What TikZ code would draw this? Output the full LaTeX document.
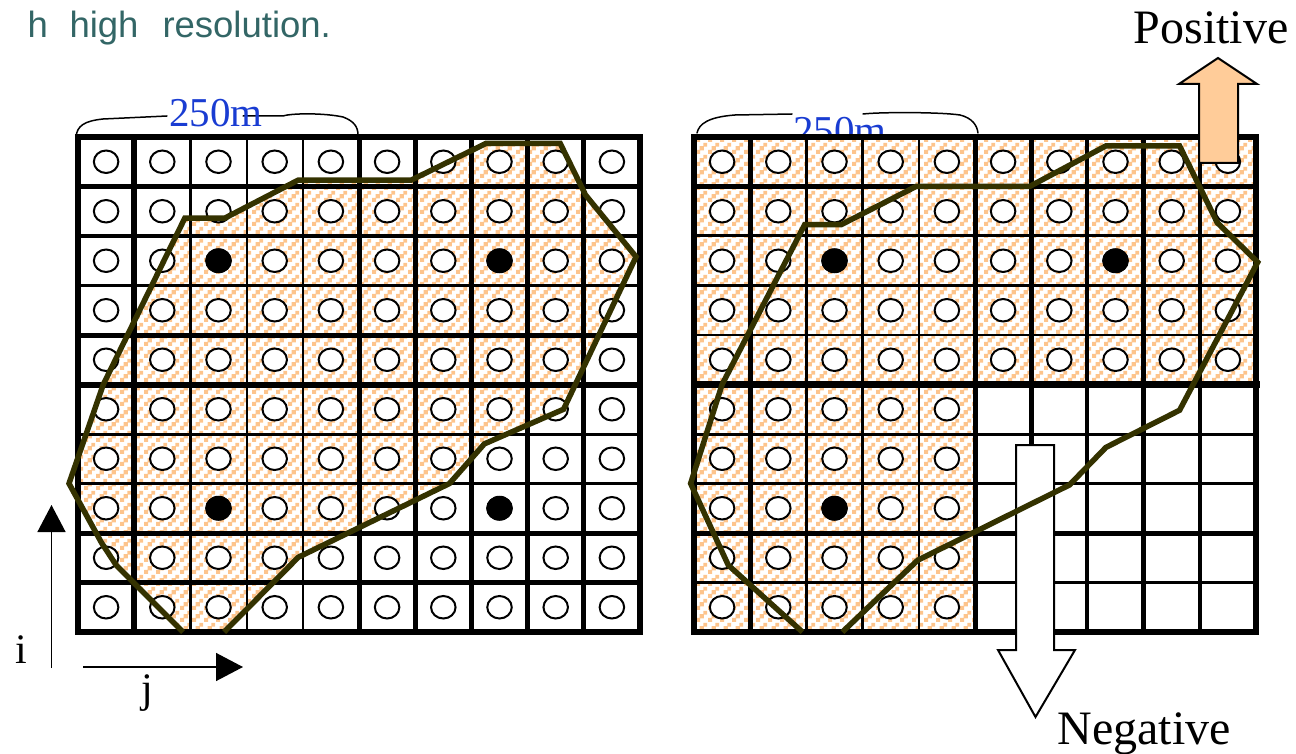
\documentclass[tikz,border=0pt]{standalone}
\usepackage{fontspec}
\setmainfont{Liberation Serif}
\newfontfamily\sansf{Liberation Sans}
\usetikzlibrary{arrows.meta,patterns,shapes.geometric}

\definecolor{hatchc}{RGB}{253,196,140}
\definecolor{polyc}{RGB}{52,50,0}
\definecolor{bluetxt}{RGB}{25,60,210}
\definecolor{tealtxt}{RGB}{51,102,102}
\definecolor{peach}{RGB}{255,204,153}

\pgfdeclarepatternformonly{sqcheck}{\pgfpoint{0pt}{0pt}}{\pgfpoint{12pt}{12pt}}{\pgfpoint{12pt}{12pt}}{%
  \pgfpathrectangle{\pgfpoint{0pt}{0pt}}{\pgfpoint{4.4pt}{4.4pt}}%
  \pgfpathrectangle{\pgfpoint{4pt}{4pt}}{\pgfpoint{4.4pt}{4.4pt}}%
  \pgfpathrectangle{\pgfpoint{8pt}{8pt}}{\pgfpoint{4pt}{4pt}}%
  \pgfusepath{fill}}

\tikzset{
  gline/.style={line cap=rect},
  cellcirc/.style={ellipse, draw=black, line width=2pt, fill=white, minimum width=24.5pt, minimum height=22.5pt, inner sep=0pt},
  celldot/.style={ellipse, fill=black, minimum width=26.5pt, minimum height=25pt, inner sep=0pt},
  boundary/.style={draw=polyc, line width=5.5pt, line join=miter},
  hatch/.style={pattern=sqcheck, pattern color=hatchc},
  blockarrow/.style={draw=black, line width=2pt, line join=miter},
  axisarrow/.style={line width=1.4pt, -{Triangle[length=27pt,width=28pt]}},
  bracestyle/.style={line width=1.5pt, line cap=round},
  lbl/.style={inner sep=0pt, outer sep=0pt},
  bigserif/.style={font=\fontsize{48}{50}\selectfont},
  midserif/.style={font=\fontsize{42}{44}\selectfont},
  scaletxt/.style={font=\fontsize{41}{43}\selectfont, text=bluetxt},
}

\begin{document}
\begin{tikzpicture}[x=1pt,y=-1pt]
\useasboundingbox (0,0) rectangle (1296,754);

% top text
\node[lbl, anchor=base west, font=\sansf\fontsize{36.5}{40}\selectfont, text=tealtxt] (t1) at (27.5,38) {h};
\node[lbl, anchor=base west, font=\sansf\fontsize{36.5}{40}\selectfont, text=tealtxt] (t2) at (69.5,38) {high};
\node[lbl, anchor=base west, font=\sansf\fontsize{36.5}{40}\selectfont, text=tealtxt] (t3) at (162.5,38) {resolution.};

% right scale label (partly hidden by grid)
\node[lbl, anchor=base, scaletxt] (scR) at (840,145) {250m};

%================ LEFT GRID =================
\begin{scope}[xshift=78pt, yshift=-137pt, x=56.2pt, y=-49.5pt]
  \begin{scope}
    \clip (0,0) rectangle (10,10);
    \fill[hatch] (1.87,10) -- (0.68,8.65) -- (0.42,8.2) -- (-0.16,7.0) -- (0.45,5.0) -- (1.9,1.64) -- (2.61,1.64) -- (3.92,0.87) -- (5.93,0.87) -- (7.26,0.13) -- (8.58,0.13) -- (9.03,1.17) -- (9.93,2.42) -- (8.64,5.5) -- (7.23,6.2) -- (6.61,7.0) -- (3.92,8.49) -- (2.6,10) -- cycle;
  \end{scope}
  \foreach \c/\w in {0/5.5,1/5.5,2/2.8,3/2.2,4/1.7,5/5,6/5,7/5,8/5,9/5,10/5.5}
    \draw[gline, line width=\w pt] (\c,0) -- (\c,10);
  \foreach \r/\w in {0/5.5,1/5,2/3.5,3/3,4/5,5/6,6/3,7/2.2,8/5,9/5,10/6}
    \draw[gline, line width=\w pt] (0,\r) -- (10,\r);
  \foreach \r in {0,...,9}
    \foreach \c in {0,...,9}
      \node[cellcirc] (L-\r-\c) at (\c+.5,\r+.5) {};
  \node[celldot] (LD1) at (2.5,2.5) {};
  \node[celldot] (LD2) at (7.5,2.5) {};
  \node[celldot] (LD3) at (2.5,7.5) {};
  \node[celldot] (LD4) at (7.5,7.5) {};
  \draw[boundary] (1.87,10) -- (0.68,8.65) -- (0.42,8.2) -- (-0.16,7.0) -- (0.45,5.0) -- (1.9,1.64) -- (2.61,1.64) -- (3.92,0.87) -- (5.93,0.87) -- (7.26,0.13) -- (8.58,0.13) -- (9.03,1.17) -- (9.93,2.42) -- (8.64,5.5) -- (7.23,6.2) -- (6.61,7.0) -- (3.92,8.49) -- (2.6,10);
\end{scope}

%================ RIGHT GRID =================
\begin{scope}[xshift=694pt, yshift=-137pt, x=56.2pt, y=-49.5pt]
  \fill[white] (0,0) rectangle (10,10);
  \fill[hatch] (0,0) rectangle (10,5);
  \fill[hatch] (0,5) rectangle (5,10);
  \foreach \c/\w in {0/5.5,1/5,2/3,3/2.5,4/2,5/5,6/5,7/4,8/5,9/4.5,10/5.5}
    \draw[gline, line width=\w pt] (\c,0) -- (\c,10);
  \foreach \r/\w in {0/5.5,1/5,2/3,3/2.2,4/2.2,5/7,6/3,7/3,8/5,9/3,10/6}
    \draw[gline, line width=\w pt] (0,\r) -- (10,\r);
  \foreach \r in {0,...,4}
    \foreach \c in {0,...,9}
      \node[cellcirc] (R-\r-\c) at (\c+.5,\r+.5) {};
  \foreach \r in {5,...,9}
    \foreach \c in {0,...,4}
      \node[cellcirc] (R-\r-\c) at (\c+.5,\r+.5) {};
  \node[celldot] (RD1) at (2.5,2.5) {};
  \node[celldot] (RD2) at (7.5,2.5) {};
  \node[celldot] (RD3) at (2.5,7.5) {};
\end{scope}

% negative block arrow (below boundary)
\draw[blockarrow, fill=white] (1016,445) -- (1054,445) -- (1054,650) -- (1075,650) -- (1035.5,717) -- (998,650) -- (1016,650) -- cycle;

\begin{scope}[xshift=694pt, yshift=-137pt, x=56.2pt, y=-49.5pt]
  \draw[boundary] (1.93,10) -- (0.61,8.65) -- (-0.06,7.0) -- (0.5,5.0) -- (1.97,1.77) -- (2.62,1.77) -- (3.95,1.0) -- (5.97,1.0) -- (7.33,0.18) -- (8.64,0.18) -- (9.31,1.73) -- (10.03,2.53) -- (8.64,5.52) -- (7.33,6.27) -- (6.68,7.03) -- (3.98,8.55) -- (2.64,10);
\end{scope}

% positive block arrow
\draw[blockarrow, fill=peach] (1199,163) -- (1199,84) -- (1179,84) -- (1218,58) -- (1257,84) -- (1238,84) -- (1238,163) -- cycle;

% braces
\draw[bracestyle] (76,137) .. controls (77,126) and (84,121) .. (103,119) -- (167,116);
\draw[bracestyle] (243,116) -- (283,116) .. controls (292,113) and (325,113) .. (343,117) .. controls (354,121) and (358,127) .. (358,135);
\draw[bracestyle] (697,133) .. controls (699,124) and (708,117) .. (735,115) -- (792,114);
\draw[bracestyle] (863,114) .. controls (880,112) and (940,112) .. (960,115) .. controls (972,118) and (977,125) .. (978,133);

% left scale label
\node[lbl, anchor=base, scaletxt] (scL) at (216,127) {250m};

% labels
\node[lbl, anchor=base, bigserif] (pos) at (1211,44) {Positive};
\node[lbl, anchor=base, bigserif] (neg) at (1144,744) {Negative};

% axis arrows
\coordinate (iS) at (51.5,668);
\coordinate (iE) at (51.5,505);
\coordinate (jS) at (83,667);
\coordinate (jE) at (243,667);
\draw[axisarrow] (iS) -- (iE);
\draw[axisarrow] (jS) -- (jE);
\node[lbl, anchor=base, midserif] (li) at (21,663) {i};
\node[lbl, anchor=base, midserif] (lj) at (147,702) {j};
\end{tikzpicture}
\end{document}
